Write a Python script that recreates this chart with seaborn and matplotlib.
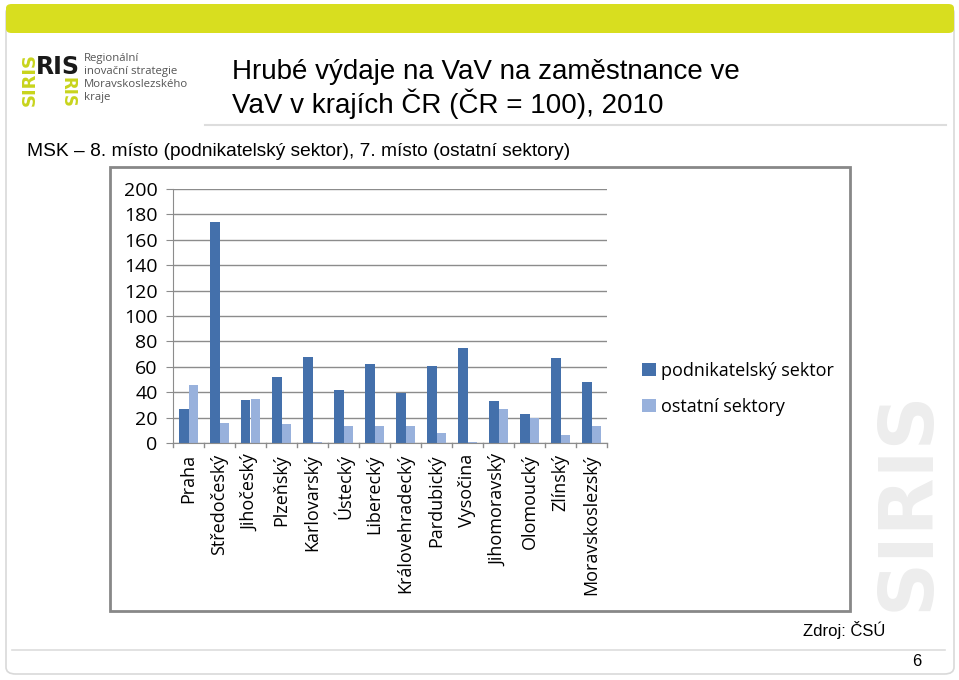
import matplotlib
matplotlib.use("Agg")
import matplotlib.pyplot as plt
import seaborn as sns
import pandas as pd
from matplotlib.patches import FancyBboxPatch, Rectangle, Patch

# Data
regions = ["Praha", "Středočeský", "Jihočeský", "Plzeňský", "Karlovarský", "Ústecký",
           "Liberecký", "Královehradecký", "Pardubický", "Vysočina", "Jihomoravský",
           "Olomoucký", "Zlínský", "Moravskoslezský"]
business = [27, 174, 34, 52, 68, 42, 62, 39, 61, 75, 33, 23, 67, 48]
other = [46, 16, 35, 15, 1, 13, 13, 13, 8, 1, 27, 20, 6, 13]
series = ["podnikatelský sektor", "ostatní sektory"]
colors = ["#4470AB", "#98B1DC"]

df = pd.DataFrame({
    "kraj": regions * 2,
    "hodnota": business + other,
    "sektor": [series[0]] * len(regions) + [series[1]] * len(regions),
})

W, H = 959, 680
fig = plt.figure(figsize=(W / 100, H / 100), dpi=100)
fig.patch.set_facecolor("white")

def fx(px):
    return px / W

def fy(py):
    return 1 - py / H

# slide card + green band
fig.patches.append(FancyBboxPatch((fx(6), fy(674)), fx(948), fy(6) - fy(674),
                                  boxstyle="round,pad=0,rounding_size=0.01",
                                  transform=fig.transFigure, facecolor="white",
                                  edgecolor="#d9d9d9", lw=1.2, zorder=0))
fig.patches.append(FancyBboxPatch((fx(6), fy(33)), fx(948), fy(4) - fy(33),
                                  boxstyle="round,pad=0,rounding_size=0.006",
                                  transform=fig.transFigure, facecolor="#D8DE1F",
                                  edgecolor="none", zorder=1))

# watermark
fig.text(fx(908), fy(500), "SIRIS", rotation=90, fontsize=54, fontweight="bold",
         color="#ededed", ha="center", va="center", family="DejaVu Sans", zorder=0.5)

# logo
fig.text(fx(58), fy(67), "RIS", fontsize=17, fontweight="bold", color="#1a1a1a",
         ha="center", va="center", family="DejaVu Sans")
fig.text(fx(30), fy(80), "SIRIS", rotation=90, fontsize=13, fontweight="bold",
         color="#C8D41C", ha="center", va="center", family="DejaVu Sans")
fig.text(fx(67), fy(92), "RIS", rotation=270, fontsize=12, fontweight="bold",
         color="#C8D41C", ha="center", va="center", family="DejaVu Sans")
fig.text(fx(84), fy(78), "Regionální\ninovační strategie\nMoravskoslezského\nkraje",
         fontsize=8.2, color="#555555", ha="left", va="center", family="Open Sans",
         linespacing=1.25)

# titles
fig.text(fx(232), fy(72), "Hrubé výdaje na VaV na zaměstnance ve", fontsize=20,
         family="Liberation Sans", ha="left", va="center")
fig.text(fx(232), fy(104), "VaV v krajích ČR (ČR = 100), 2010", fontsize=20,
         family="Liberation Sans", ha="left", va="center")
fig.add_artist(plt.Line2D([fx(205), fx(946)], [fy(125), fy(125)], color="#dddddd", lw=1.5))
fig.text(fx(27), fy(152), "MSK – 8. místo (podnikatelský sektor), 7. místo (ostatní sektory)",
         fontsize=13.8, family="Liberation Sans", ha="left", va="center")

# chart frame
fig.patches.append(Rectangle((fx(110), fy(611)), fx(740), fy(167) - fy(611),
                             transform=fig.transFigure, facecolor="white",
                             edgecolor="#888888", lw=2, zorder=2))

ax = fig.add_axes([fx(173), fy(443), fx(607) - fx(173), fy(189) - fy(443)], zorder=3)
ax.set_facecolor("none")
sns.barplot(data=df, x="kraj", y="hodnota", hue="sektor", palette=colors,
            width=0.6, ax=ax, legend=False, saturation=1)
ax.set_ylim(0, 200)
ax.set_xlim(-0.5, len(regions) - 0.5)
ax.set_yticks(range(0, 201, 20))
ax.yaxis.grid(True, color="#8c8c8c", lw=1)
ax.set_axisbelow(True)
for s in ["top", "right"]:
    ax.spines[s].set_visible(False)
ax.spines["left"].set_color("#8c8c8c")
ax.spines["bottom"].set_color("#8c8c8c")
ax.set_xlabel("")
ax.set_ylabel("")
ax.tick_params(axis="y", length=5, color="#8c8c8c", labelsize=14, pad=6)
ax.set_xticks(range(len(regions)))
ax.set_xticklabels(regions, rotation=90, fontsize=13, family="Open Sans")
ax.tick_params(axis="x", length=0, pad=8)
for lab in ax.get_yticklabels():
    lab.set_family("Open Sans")
for i in range(len(regions) + 1):
    ax.plot([i - 0.5, i - 0.5], [0, -3], color="#8c8c8c", lw=1, clip_on=False)

handles = [Patch(facecolor=c, edgecolor="none") for c in colors]
fig.legend(handles, series, loc="center left", bbox_to_anchor=(fx(626), fy(389)),
           frameon=False, prop={"family": "Open Sans", "size": 13},
           handlelength=0.75, handleheight=0.75, handletextpad=0.3, labelspacing=1.0)

# footer
fig.text(fx(885), fy(630), "Zdroj: ČSÚ", fontsize=12, family="Liberation Sans",
         ha="right", va="center")
fig.add_artist(plt.Line2D([fx(12), fx(945)], [fy(650), fy(650)], color="#dddddd", lw=1.2))
fig.text(fx(921), fy(662), "6", fontsize=12, family="Liberation Sans", ha="right", va="center")

fig.savefig("out.png", dpi=100)
